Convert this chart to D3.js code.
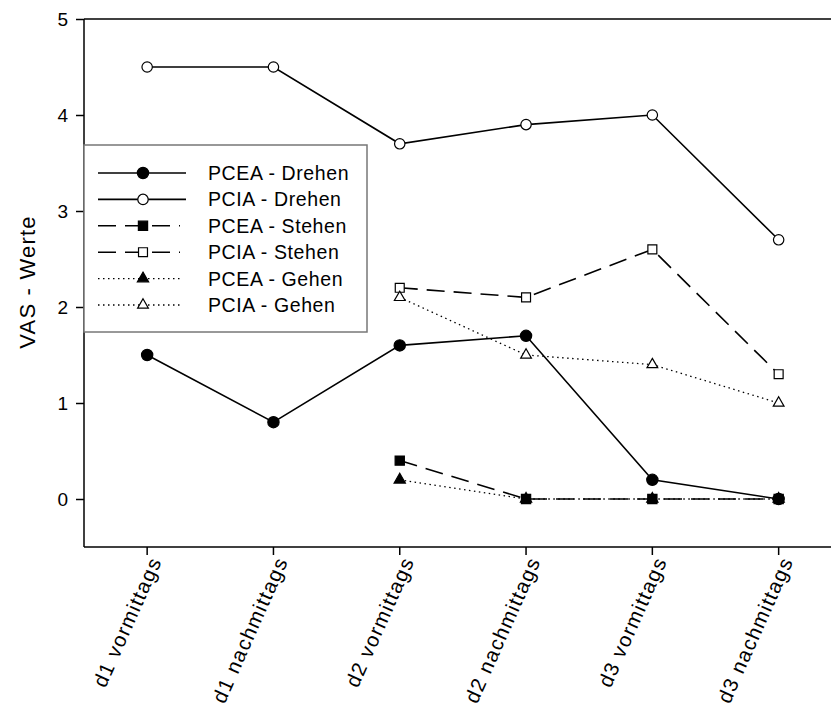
<!DOCTYPE html>
<html>
<head>
<meta charset="utf-8">
<script src="https://cdn.jsdelivr.net/npm/d3@7"></script>
<style>
  body { margin: 0; background: #fff; }
  text { font-family: "Liberation Sans", Arial, sans-serif; fill: #000; }
</style>
</head>
<body>
<div id="main_div"></div>
<script>
const categories = ["d1 vormittags", "d1 nachmittags", "d2 vormittags",
                    "d2 nachmittags", "d3 vormittags", "d3 nachmittags"];
const yTicks = [0, 1, 2, 3, 4, 5];

const pceaDrehen = [1.5, 0.8, 1.6, 1.7, 0.2, 0.0];
const pciaDrehen = [4.5, 4.5, 3.7, 3.9, 4.0, 2.7];
const pceaStehen = [null, null, 0.4, 0.0, 0.0, 0.0];
const pciaStehen = [null, null, 2.2, 2.1, 2.6, 1.3];
const pceaGehen  = [null, null, 0.2, 0.0, 0.0, 0.0];
const pciaGehen  = [null, null, 2.1, 1.5, 1.4, 1.0];

const seriesNames = ["PCEA - Drehen", "PCIA - Drehen", "PCEA - Stehen",
                     "PCIA - Stehen", "PCEA - Gehen", "PCIA - Gehen"];

const W = 831, H = 716;
const LEFT = 84, TOP = 19, BOTTOM = 547;

const series = [
    { name: seriesNames[0], values: pceaDrehen, sym: d3.symbolCircle,   size: 100, filled: true,  dash: null },
    { name: seriesNames[1], values: pciaDrehen, sym: d3.symbolCircle,   size: 85,  filled: false, dash: null },
    { name: seriesNames[2], values: pceaStehen, sym: d3.symbolSquare,   size: 85,  filled: true,  dash: "18,9" },
    { name: seriesNames[3], values: pciaStehen, sym: d3.symbolSquare,   size: 80,  filled: false, dash: "18,9" },
    { name: seriesNames[4], values: pceaGehen,  sym: d3.symbolTriangle, size: 55,  filled: true,  dash: "1.5,3.5" },
    { name: seriesNames[5], values: pciaGehen,  sym: d3.symbolTriangle, size: 50,  filled: false, dash: "1.5,3.5" }
];

const svg = d3.select("#main_div")
    .append("svg")
    .attr("width", W)
    .attr("height", H);

const xScale = d3.scaleBand()
    .domain(categories)
    .range([LEFT, LEFT + 6 * 126.3])
    .padding(0);

const xPos = c => xScale(c) + xScale.bandwidth() / 2;

const yScale = d3.scaleLinear()
    .domain([-0.5, 5])
    .range([BOTTOM, TOP]);

// axes
const yAxis = svg.append("g")
    .attr("transform", `translate(${LEFT},0)`)
    .call(d3.axisLeft(yScale).tickValues(yTicks).tickFormat(d3.format("d")).tickSize(8).tickSizeOuter(0));
yAxis.select(".domain").remove();
yAxis.selectAll(".tick line").attr("stroke-width", 1.5);
yAxis.selectAll(".tick text")
    .attr("x", -16)
    .style("font-size", "19px")
    .style("font-family", "Liberation Sans, Arial, sans-serif");

const xAxis = svg.append("g")
    .attr("transform", `translate(0,${BOTTOM})`)
    .call(d3.axisBottom(xScale).tickSize(8).tickSizeOuter(0));
xAxis.select(".domain").remove();
xAxis.selectAll(".tick line").attr("stroke-width", 1.5);
xAxis.selectAll(".tick text")
    .style("font-size", "20.5px")
    .style("letter-spacing", "1.3px")
    .style("font-family", "Liberation Sans, Arial, sans-serif")
    .attr("text-anchor", "end")
    .attr("x", 0).attr("y", 0).attr("dy", 0)
    .attr("transform", "translate(15,14) rotate(-66)");

// frame: left, top and bottom lines
svg.append("line").attr("x1", LEFT).attr("x2", LEFT).attr("y1", TOP).attr("y2", BOTTOM)
    .attr("stroke", "#000").attr("stroke-width", 1.5);
svg.append("line").attr("x1", LEFT).attr("x2", W).attr("y1", TOP).attr("y2", TOP)
    .attr("stroke", "#000").attr("stroke-width", 1.5);
svg.append("line").attr("x1", LEFT).attr("x2", W).attr("y1", BOTTOM).attr("y2", BOTTOM)
    .attr("stroke", "#000").attr("stroke-width", 1.5);

svg.append("text")
    .attr("transform", `translate(35,282) rotate(-90)`)
    .attr("text-anchor", "middle")
    .style("font-size", "22px")
    .style("letter-spacing", "1.2px")
    .text("VAS - Werte");

const line = d3.line()
    .defined(d => d.v !== null)
    .x(d => xPos(d.c))
    .y(d => yScale(d.v));

series.forEach(s => {
    const pts = s.values.map((v, i) => ({ c: categories[i], v: v }));
    svg.append("path")
        .datum(pts)
        .attr("fill", "none")
        .attr("stroke", "#000")
        .attr("stroke-width", s.dash && s.dash.startsWith("1.5") ? 1.3 : 1.6)
        .attr("stroke-dasharray", s.dash)
        .attr("d", line);
});

series.forEach(s => {
    const pts = s.values.map((v, i) => ({ c: categories[i], v: v })).filter(d => d.v !== null);
    svg.selectAll(null)
        .data(pts)
        .enter()
        .append("path")
        .attr("d", d3.symbol().type(s.sym).size(s.size))
        .attr("transform", d => `translate(${xPos(d.c)},${yScale(d.v)})`)
        .attr("fill", s.filled ? "#000" : "#fff")
        .attr("stroke", "#000")
        .attr("stroke-width", 1.2);
});

// legend
const lg = svg.append("g");
lg.append("rect")
    .attr("x", LEFT).attr("y", 145)
    .attr("width", 283).attr("height", 187)
    .attr("fill", "#fff")
    .attr("stroke", "#777")
    .attr("stroke-width", 1.5);

series.forEach((s, i) => {
    const y = 173 + i * 26.4;
    lg.append("line")
        .attr("x1", 98).attr("x2", s.dash ? 180 : 186)
        .attr("y1", y).attr("y2", y)
        .attr("stroke", "#000")
        .attr("stroke-width", s.dash && s.dash.startsWith("1.5") ? 1.3 : 1.6)
        .attr("stroke-dasharray", s.dash);
    lg.append("path")
        .attr("d", d3.symbol().type(s.sym).size(s.size))
        .attr("transform", `translate(143,${y})`)
        .attr("fill", s.filled ? "#000" : "#fff")
        .attr("stroke", "#000")
        .attr("stroke-width", 1.2);
    lg.append("text")
        .attr("x", 208).attr("y", y)
        .attr("dy", "0.36em")
        .style("font-size", "19.5px")
        .style("letter-spacing", "0.6px")
        .text(s.name);
});
</script>
</body>
</html>
